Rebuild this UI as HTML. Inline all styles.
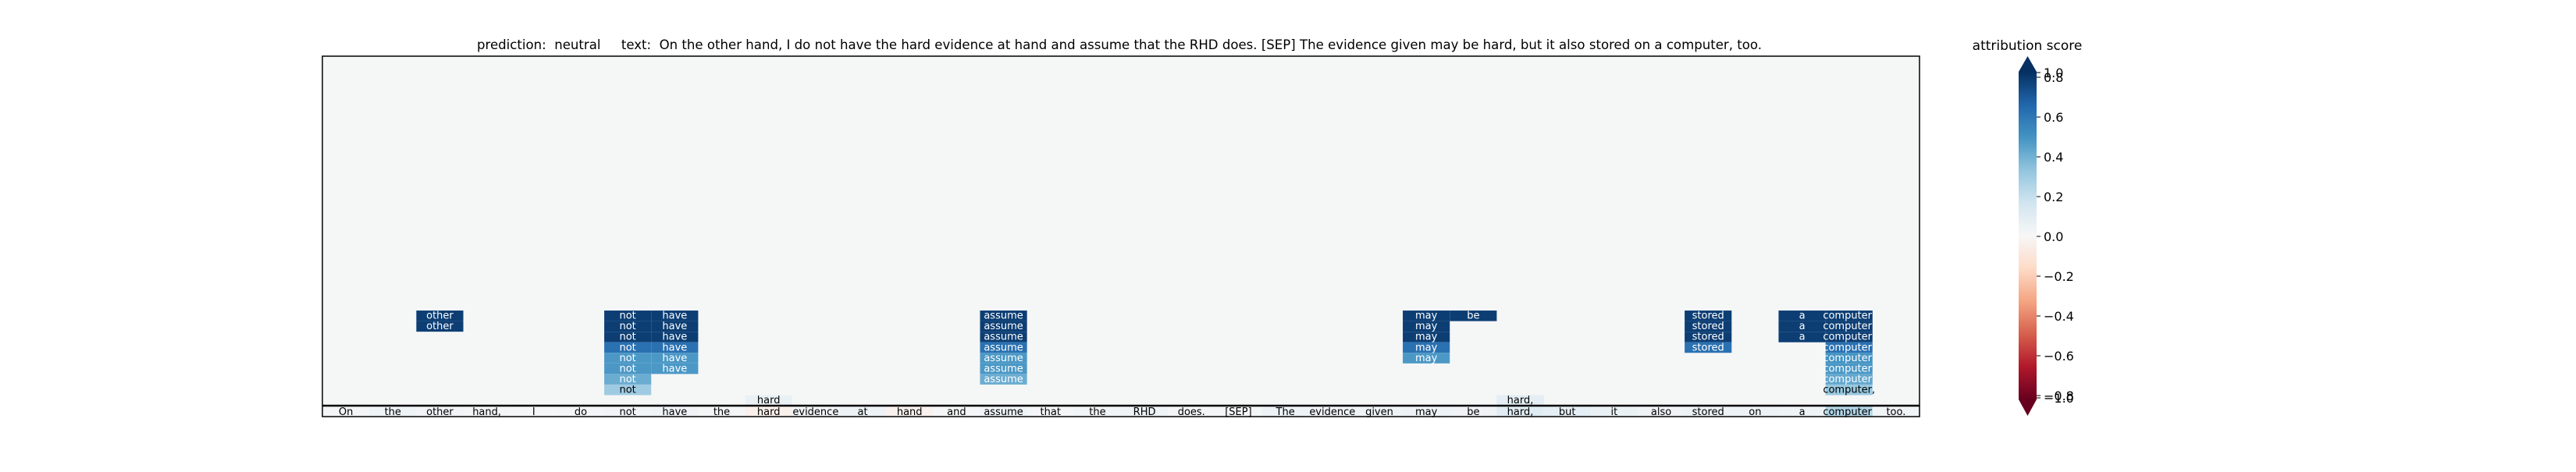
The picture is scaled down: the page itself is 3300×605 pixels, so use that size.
<!DOCTYPE html>
<html><head><meta charset="utf-8"><style>
html,body{margin:0;padding:0;background:#fff;}
svg text{font-family:"DejaVu Sans","Liberation Sans",sans-serif;}
</style></head><body>
<svg id="chart" width="3300" height="600" viewBox="0 0 3300 600" xmlns="http://www.w3.org/2000/svg">
<defs>
<linearGradient id="cbgrad" x1="0" y1="1" x2="0" y2="0">
<stop offset="0" stop-color="#67001f"/><stop offset="0.1" stop-color="#b2182b"/><stop offset="0.2" stop-color="#d6604d"/><stop offset="0.3" stop-color="#f4a582"/><stop offset="0.4" stop-color="#fddbc7"/><stop offset="0.5" stop-color="#f7f7f7"/><stop offset="0.6" stop-color="#d1e5f0"/><stop offset="0.7" stop-color="#92c5de"/><stop offset="0.8" stop-color="#4393c3"/><stop offset="0.9" stop-color="#2166ac"/><stop offset="1" stop-color="#053061"/>
</linearGradient>
</defs>
<text x="1434" y="63" font-size="17" text-anchor="middle" textLength="1646" lengthAdjust="spacingAndGlyphs" xml:space="preserve">prediction:  neutral     text:  On the other hand, I do not have the hard evidence at hand and assume that the RHD does. [SEP] The evidence given may be hard, but it also stored on a computer, too.</text>
<rect x="413" y="72" width="2046" height="462" fill="#f5f6f6"/>
<g id="cells"></g>
<g id="tokens"></g>
<line x1="413" y1="520" x2="2459" y2="520" stroke="#000" stroke-width="2.5"/>
<rect x="413" y="72" width="2046" height="462" fill="none" stroke="#000" stroke-width="1.5"/>
<text x="2597" y="64" font-size="17" text-anchor="middle">attribution score</text>
<rect x="2586" y="92" width="23" height="420" fill="url(#cbgrad)"/>
<polygon points="2586,92 2609,92 2597.5,72" fill="#053061"/>
<polygon points="2586,512 2609,512 2597.5,533" fill="#67001f"/>
<g id="cbticks"></g>
</svg>
<script>
const tokens = ["On","the","other","hand,","I","do","not","have","the","hard","evidence","at","hand","and","assume","that","the","RHD","does.","[SEP]","The","evidence","given","may","be","hard,","but","it","also","stored","on","a","computer,","too."];
const tokenScores = [0.02,0.05,0.03,0.02,0.01,0.02,0.03,0.04,0.02,-0.05,0.03,0.06,-0.04,0.01,0.05,0.02,0.03,0.05,0.02,0.02,0.06,0.04,0.05,0.06,0.04,0.12,0.1,0.07,0.04,0.06,0.06,0.05,0.3,0.03];
// cells: [columnIndex, level (0 = just above tokens), value]
const cellCols   = [2,2, 6,6,6,6,6,6,6,6, 7,7,7,7,7,7, 9, 14,14,14,14,14,14,14, 23,23,23,23,23, 24, 25, 29,29,29,29, 31,31,31, 32,32,32,32,32,32,32,32];
const cellLevels = [8,7, 8,7,6,5,4,3,2,1, 8,7,6,5,4,3, 0, 8,7,6,5,4,3,2, 8,7,6,5,4, 8, 0, 8,7,6,5, 8,7,6, 8,7,6,5,4,3,2,1];
const cellValues = [0.95,0.95, 0.95,0.95,0.95,0.75,0.58,0.58,0.5,0.36, 0.95,0.95,0.95,0.75,0.58,0.58, 0.07, 0.95,0.95,0.95,0.75,0.58,0.58,0.5, 0.95,0.95,0.95,0.75,0.58, 0.95, 0.1, 0.95,0.95,0.95,0.75, 0.95,0.95,0.95, 0.95,0.95,0.95,0.75,0.6,0.58,0.52,0.38];
const tickValues = [1.0,0.8,0.6,0.4,0.2,0.0,-0.2,-0.4,-0.6,-0.8,-1.0];
const tickLabels = ["1.0","0.8","0.6","0.4","0.2","0.0","\u22120.2","\u22120.4","\u22120.6","\u22120.8","\u22121.0"];

const NS="http://www.w3.org/2000/svg";
const x0=413, cw=2046/tokens.length, rowH=13.55, tokTop=520;
const xAt = i => x0 + i*cw;
const yAt = lvl => tokTop - (lvl+1)*rowH;
const stops=["#67001f","#b2182b","#d6604d","#f4a582","#fddbc7","#f7f7f7","#d1e5f0","#92c5de","#4393c3","#2166ac","#053061"];
function hex(h){return [1,3,5].map(k=>parseInt(h.substr(k,2),16));}
function cmap(v){v=Math.max(-1,Math.min(1,v));const t=(v+1)/2*10;const i=Math.min(9,Math.floor(t));const f=t-i;const a=hex(stops[i]),b=hex(stops[i+1]);return "rgb("+a.map((c,k)=>Math.round(c+(b[k]-c)*f)).join(",")+")";}
function mk(tag,attrs){const e=document.createElementNS(NS,tag);for(const k in attrs)e.setAttribute(k,attrs[k]);return e;}
const cg=document.getElementById('cells');
cellCols.forEach((c,i)=>{
  const v=cellValues[i], lv=cellLevels[i];
  const r=mk('rect',{x:xAt(c),y:yAt(lv),width:cw,height:rowH,fill:cmap(v)});
  
  
  cg.appendChild(r);
  const t=mk('text',{x:xAt(c)+cw/2,y:yAt(lv)+rowH-3,'font-size':13,'text-anchor':'middle',fill:Math.abs(v)>0.4?'#fff':'#000'});
  t.textContent=tokens[c];
  
  
  cg.appendChild(t);
});
const tg=document.getElementById('tokens');
tokens.forEach((tok,i)=>{
  const r=mk('rect',{x:xAt(i),y:tokTop,width:cw,height:14,fill:cmap(tokenScores[i])});
  
  
  tg.appendChild(r);
  const t=mk('text',{x:xAt(i)+cw/2,y:tokTop+12,'font-size':13,'text-anchor':'middle',fill:'#000'});
  t.textContent=tok;
  
  
  tg.appendChild(t);
});
const kg=document.getElementById('cbticks');
function cbY(v){ if(v>=1) return 93; if(v<=-1) return 510; return 303 - v*255; }
tickValues.forEach((v,i)=>{
  const y=cbY(v);
  const l=mk('line',{x1:2609,y1:y,x2:2614,y2:y,stroke:'#000','stroke-width':1});
  
  
  kg.appendChild(l);
  const t=mk('text',{x:2618,y:y+6,'font-size':16,fill:'#000'});
  t.textContent=tickLabels[i];
  
  
  kg.appendChild(t);
});
</script>
</body></html>
